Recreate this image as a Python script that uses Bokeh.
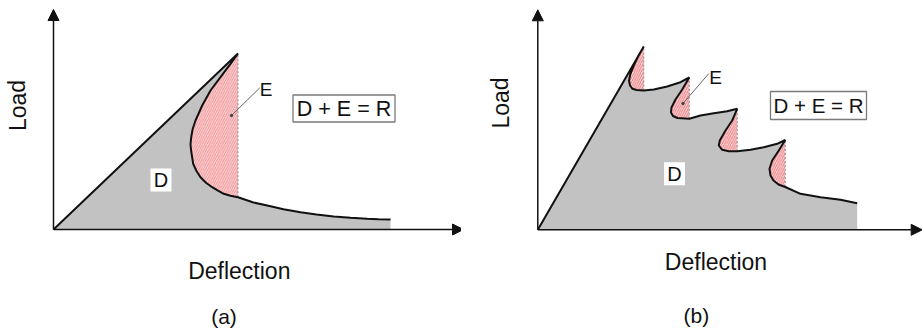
from bokeh.plotting import figure
from bokeh.layouts import row
from bokeh.models import Arrow, NormalHead, Range1d
from bokeh.core.properties import value
from bokeh.embed import file_html
from bokeh.resources import INLINE

# ---- (a) single peak with snap-back: load vs. deflection outline ----
a_defl = [0, 184.5, 177, 167, 157, 148.7, 142, 139.2, 137.7, 137, 137.6, 139.7, 143, 147,
          152.5, 158.7, 164.5, 170.3, 177, 184.5, 200, 213.7, 230, 247, 263, 280.3, 297,
          313.7, 325, 337]
a_load = [0, 176, 165.7, 152.3, 139, 124, 109, 100.5, 92.3, 85, 79, 65.7, 58.5, 52.3,
          46.8, 42.3, 38.8, 35.7, 33.8, 32.3, 27, 24, 20.3, 17.3, 15, 13, 11.7,
          10.7, 10.3, 10]
a_drop = [184.5]          # deflection where the vertical cut-off is drawn

# ---- (b) serrated curve with four snap-backs ----
b_defl = [0, 106, 100.7, 96, 92.7, 91.2, 92.2, 94.7, 98.7, 106, 116, 129.4, 142.7, 151.5,
          144.4, 137.7, 133.7, 133.2, 135.2, 139.7, 151.5, 162.7, 176, 189.4, 199.4,
          194.4, 187.7, 182, 181, 184.4, 191, 199.4, 212.7, 226, 239.4, 247.5,
          241, 234.4, 231.7, 232.7, 235.7, 240.7, 247.5, 262.7, 282.7, 302.7, 319.4]
b_load = [0, 183.3, 174.3, 164.3, 156.3, 149.3, 144.3, 141, 139.8, 139.3, 140.3, 143.3, 147.6, 152.3,
          140.3, 130.3, 122.3, 117.3, 113.8, 111.8, 111, 114.3, 116.6, 118.6, 121,
          109.3, 99.3, 89.3, 84.3, 80, 78.6, 78.6, 80, 82.6, 86, 89.8,
          79.3, 69.3, 61, 54.3, 49.3, 45.3, 42.8, 36, 32.6, 30, 26.6]
b_drop = [106, 151.5, 199.4, 247.5]

FONT = value("Liberation Sans")
INK = "#111111"
GREY = "#c2c2c2"


def panel(xs, ys, drops, xr, yr, ax_len, ay_len, labels, hatch_alpha):
    p = figure(width=461, height=330, x_range=Range1d(*xr), y_range=Range1d(*yr),
               x_axis_type=None, y_axis_type=None, output_backend="svg",
               toolbar_location=None, min_border=0)
    p.grid.visible = False
    p.outline_line_color = None
    p.background_fill_color = "white"
    p.border_fill_color = "white"

    # dissipated energy region D (grey)
    p.patch(xs + [xs[-1], 0], ys + [0, 0], fill_color=GREY, line_color=None)

    # elastic energy regions E (hatched pink), closed by a dotted vertical
    for d in drops:
        idx = [i for i, v in enumerate(xs) if v == d]
        i0, i1 = idx[0], idx[1]
        ex, ey = xs[i0:i1 + 1], ys[i0:i1 + 1]
        p.patch(ex, ey, fill_color="#fbd2d2", line_color=None,
                hatch_pattern="/", hatch_color="#e0404a", hatch_scale=4.5,
                hatch_weight=0.8, hatch_alpha=hatch_alpha)
        p.line([d, d], [ys[i1], ys[i0]], line_color="#9c8c8c", line_width=1,
               line_dash="2 2")

    # load-deflection curve
    p.line(xs, ys, line_color=INK, line_width=2)

    # axes as arrows
    head = dict(size=11, fill_color=INK, line_color=INK)
    p.add_layout(Arrow(end=NormalHead(**head), x_start=0, y_start=0, x_end=ax_len, y_end=0,
                       line_color=INK, line_width=1.5))
    p.add_layout(Arrow(end=NormalHead(**head), x_start=0, y_start=0, x_end=0, y_end=ay_len,
                       line_color=INK, line_width=1.5))

    L = labels
    # label boxes
    p.rect(x=[L["eq"][0]], y=[L["eq"][1]], width=L["eq"][2], height=L["eq"][3],
           fill_color="white", line_color="#7a7a7a", line_width=1.3)
    p.rect(x=[L["D"][0]], y=[L["D"][1]], width=21, height=23,
           fill_color="white", line_color=None)
    # leader line to E
    p.line([L["lead"][0], L["lead"][2]], [L["lead"][1], L["lead"][3]],
           line_color="#666666", line_width=1)
    p.scatter([L["lead"][0]], [L["lead"][1]], size=2.5, color="#444444")

    txt = dict(text_font=FONT, text_color=INK, text_align="center", text_baseline="middle")
    p.text(x=[L["eq"][0]], y=[L["eq"][1]], text=["D + E = R"], text_font_size=L["eq_fs"], **txt)
    p.text(x=[L["D"][0]], y=[L["D"][1]], text=["D"], text_font_size="20px", **txt)
    p.text(x=[L["E"][0]], y=[L["E"][1]], text=["E"], text_font_size="19px", **txt)
    p.text(x=[L["xl"][0]], y=[L["xl"][1]], text=["Deflection"], text_font_size="23px", **txt)
    p.text(x=[L["yl"][0]], y=[L["yl"][1]], text=["Load"], text_font_size="23px",
           angle=1.5708, **txt)
    p.text(x=[L["tag"][0]], y=[L["tag"][1]], text=[L["tag"][2]], text_font_size="21px", **txt)
    return p


pa = panel(a_defl, a_load, a_drop, (-53, 408), (-101, 229), 410, 220,
           dict(eq=(290.5, 121, 102, 27), eq_fs="21.5px", D=(107.5, 49.5), E=(212.5, 140),
                lead=(178, 114, 206.3, 141.7), xl=(185.8, -41.5), yl=(-36, 124),
                tag=(170.5, -87, "(a)")), 0.55)
pb = panel(b_defl, b_load, b_drop, (-76.3, 384.7), (-100.7, 229.3), 384.4, 220,
           dict(eq=(280.7, 124.3, 96, 28), eq_fs="20.5px", D=(136.7, 56), E=(177.7, 152.8),
                lead=(145.2, 126.3, 171, 156.3), xl=(178.2, -32), yl=(-37.3, 126.8),
                tag=(158.5, -85.7, "(b)")), 0.75)

layout = row(pa, pb)
open("out.html", "w").write(file_html(layout, INLINE))
